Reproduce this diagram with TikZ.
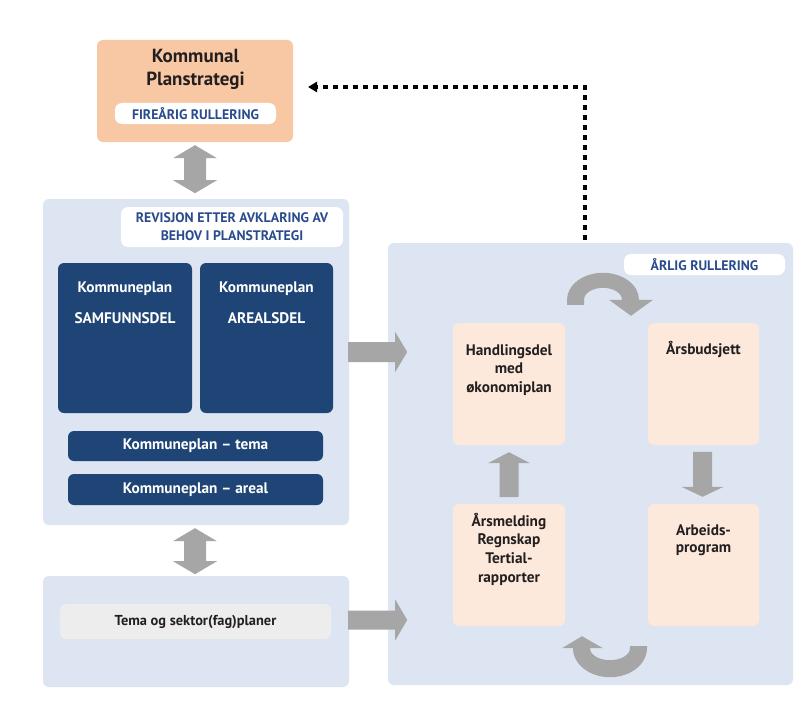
\documentclass[tikz,border=0pt]{standalone}
\usepackage{fontspec}
\setmainfont{PT Sans}
\usetikzlibrary{calc}
\definecolor{peachA}{HTML}{F8C8A5}
\definecolor{peachB}{HTML}{FDE9DB}
\definecolor{panel}{HTML}{DCE5F1}
\definecolor{navy}{HTML}{1F4577}
\definecolor{labelblue}{HTML}{2A4B8D}
\definecolor{arrowgray}{HTML}{A6A6A6}
\definecolor{lightgray}{HTML}{EDEDED}
\definecolor{txtdark}{HTML}{231F20}
\tikzset{
  box/.style={rectangle, rounded corners=6pt, inner sep=0pt, draw=none},
  panelbox/.style={box, fill=panel},
  navybox/.style={box, fill=navy},
  peachbox/.style={box, fill=peachB},
  tagbox/.style={box, fill=white, rounded corners=7pt},
  tagtext/.style={font=\bfseries\fontsize{13.8}{18}\selectfont, text=labelblue, align=center},
  wtext/.style={font=\bfseries\fontsize{15.3}{18}\selectfont, text=white, align=center, inner sep=0pt},
  btext/.style={font=\bfseries\fontsize{15.3}{18.7}\selectfont, text=txtdark, align=center, text width=108pt, inner sep=0pt},
  bline/.style={font=\bfseries\fontsize{15.3}{18.7}\selectfont, text=txtdark, inner sep=0pt, anchor=base},
  blockarrow/.style={fill=arrowgray, draw=none},
}
\begin{document}
\begin{tikzpicture}[x=1pt,y=-1pt]
\useasboundingbox[fill=white] (0,0) rectangle (804,717);

% top box
\node[box, fill=peachA, minimum width=196pt, minimum height=102pt] (plan) at (195,91) {};
\node[inner sep=0pt, align=center, text=txtdark, font=\bfseries\fontsize{19}{23}\selectfont] (plant) at (195.5,69) {Kommunal\\Planstrategi};
\node[tagbox, tagtext, minimum width=161pt, minimum height=21pt] (fire) at (195.5,113.5) {FIREÅRIG RULLERING};

% left panel
\node[panelbox, minimum width=306pt, minimum height=326pt] (leftpanel) at (196,362) {};
\node[tagbox, tagtext, minimum width=222pt, minimum height=40pt] (rev) at (232,227) {REVISJON ETTER AVKLARING AV\\BEHOV I PLANSTRATEGI};
\node[navybox, minimum width=134pt, minimum height=150pt] (samf) at (125,338) {};
\node[navybox, minimum width=133pt, minimum height=150pt] (areal) at (266.5,338) {};
\node[wtext] (samf1) at (125,289) {Kommuneplan};
\node[wtext] (samf2) at (125,318) {SAMFUNNSDEL};
\node[wtext] (areal1) at (266.5,289) {Kommuneplan};
\node[wtext] (areal2) at (266.5,318) {AREALSDEL};
\node[navybox, wtext, minimum width=255pt, minimum height=30pt] (tema) at (195.5,446) {Kommuneplan -- tema};
\node[navybox, wtext, minimum width=255pt, minimum height=31pt] (arealbar) at (195.5,489.5) {Kommuneplan -- areal};

% bottom left panel
\node[panelbox, minimum width=306pt, minimum height=111pt] (botpanel) at (196,631.5) {};
\node[box, fill=lightgray, minimum width=271pt, minimum height=35pt, font=\bfseries\fontsize{14.4}{17}\selectfont, text=txtdark] (sektor) at (195.5,621.5) {Tema og sektor(fag)planer};

% right panel
\node[panelbox, minimum width=405pt, minimum height=442pt] (rightpanel) at (590.5,464) {};
\node[tagbox, tagtext, minimum width=161pt, minimum height=21pt] (arlig) at (704.5,264.5) {ÅRLIG RULLERING};
\node[peachbox, minimum width=112pt, minimum height=122pt] (hand) at (509,384) {};
\node[peachbox, minimum width=111pt, minimum height=122pt] (budsj) at (703.5,384) {};
\node[peachbox, minimum width=112pt, minimum height=122pt] (arsm) at (509,565) {};
\node[peachbox, minimum width=111pt, minimum height=122pt] (arbeid) at (703.5,565) {};
\node[bline] (handt1) at (509,355) {Handlingsdel};
\node[bline] (handt2) at (509,373.5) {med};
\node[bline] (handt3) at (509,392) {økonomiplan};
\node[btext] (budsjt) at (703.5,350) {Årsbudsjett};
\node[btext] (arsmt) at (509,549) {Årsmelding\\Regnskap\\Tertial-\\rapporter};
\node[btext, font=\bfseries\fontsize{15.3}{17.5}\selectfont] (arbeidt) at (703.5,540) {Arbeids-\\program};

% vertical double arrows
\fill[blockarrow] ($(plan.south)+(0,3)$) -- ++(22,13) -- ++(-11,0) -- ++(0,22) -- ++(11,0) -- ++(-22,13)
  -- ++(-22,-13) -- ++(11,0) -- ++(0,-22) -- ++(-11,0) -- cycle;
\fill[blockarrow] ($(leftpanel.south)+(-1,3)$) -- ++(22,13) -- ++(-11,0) -- ++(0,20) -- ++(11,0) -- ++(-22,13)
  -- ++(-22,-13) -- ++(11,0) -- ++(0,-20) -- ++(-11,0) -- cycle;

% right block arrows
\fill[blockarrow] ($(leftpanel.east)+(-1,-10)$) ++(0,-10) -- ++(47,0) -- ++(0,-10) -- ++(12,20) -- ++(-12,20)
  -- ++(0,-10) -- ++(-47,0) -- cycle;
\fill[blockarrow] ($(botpanel.east)+(-1,-11.5)$) ++(0,-9.5) -- ++(47,0) -- ++(0,-11) -- ++(12,20.5) -- ++(-12,20.5)
  -- ++(0,-11) -- ++(-47,0) -- cycle;

% up and down arrows
\fill[blockarrow] ($(hand.south)+(0,7)$) -- ++(21,11) -- ++(-11.5,0) -- ++(0,34) -- ++(-19,0) -- ++(0,-34) -- ++(-11.5,0) -- cycle;
\fill[blockarrow] ($(arbeid.north)+(-1,-7)$) -- ++(21,-10) -- ++(-11.5,0) -- ++(0,-35) -- ++(-19,0) -- ++(0,35) -- ++(-11.5,0) -- cycle;

% curved arrows
\coordinate (ctop) at ($(hand.north east)!0.5!(budsj.north west)+(-3.5,-23)$);
\fill[blockarrow] ($(ctop)+(-36,5)$) -- ($(ctop)+(-36,0)$) arc[start angle=180, end angle=360, x radius=36, y radius=27]
  -- ($(ctop)+(50,0)$) -- ($(ctop)+(28,16)$) -- ($(ctop)+(6,0)$) -- ($(ctop)+(19,0)$)
  arc[start angle=360, end angle=180, x radius=19, y radius=12] -- ($(ctop)+(-19,5)$) -- cycle;
\coordinate (cbot) at ($(arsm.south east)!0.5!(arbeid.south west)+(3.5,22)$);
\fill[blockarrow] ($(cbot)+(37,-2)$) -- ($(cbot)+(37,0)$) arc[start angle=0, end angle=180, x radius=37, y radius=29]
  -- ($(cbot)+(-48,0)$) -- ($(cbot)+(-28,-12)$) -- ($(cbot)+(-7,0)$) -- ($(cbot)+(-20,0)$)
  arc[start angle=180, end angle=0, x radius=20, y radius=12] -- ($(cbot)+(20,-2)$) -- cycle;

% dotted feedback arrow
\coordinate (dstart) at ($(rightpanel.north)+(-5.5,-3)$);
\coordinate (dend) at ($(plan.east)+(23,-4)$);
\coordinate (dtip) at ($(plan.east)+(15,-4)$);
\draw[line width=4.5pt, dash pattern=on 4.5pt off 5.5pt] (dstart) -- (dstart |- dend) -- (dend);
\fill (dtip) -- ++(9,-5.5) -- ++(0,11) -- cycle;
\end{tikzpicture}
\end{document}
